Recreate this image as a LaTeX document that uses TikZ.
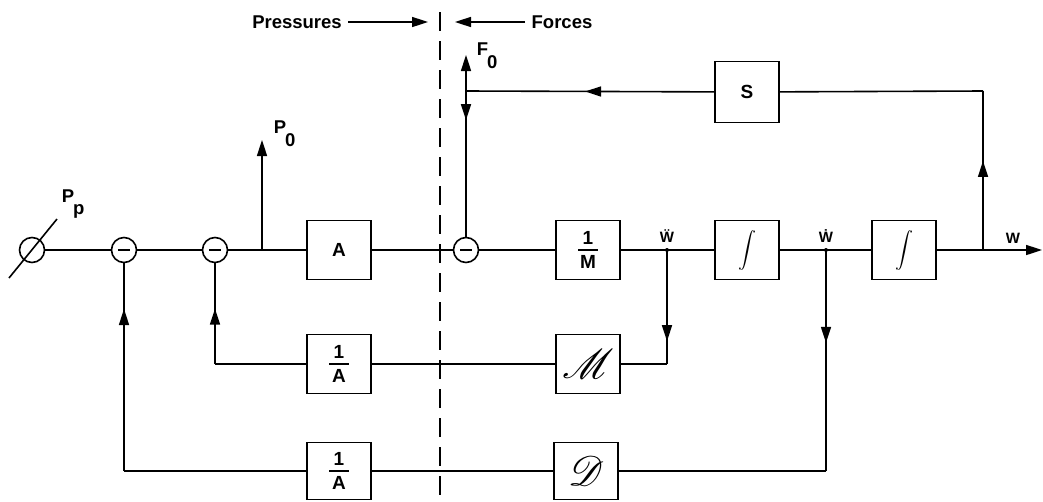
\documentclass[tikz,border=0pt]{standalone}
\usepackage{fontspec}
\setmainfont{Liberation Sans}
\usepackage{mathrsfs}
\usetikzlibrary{arrows.meta,decorations.markings}
\newcommand\myfr[2]{\shortstack{#1\\[2pt]\rule{20pt}{1.6pt}\\[2pt]#2}}
\begin{document}
\begin{tikzpicture}[x=1pt,y=-1pt,line width=1.6pt,
  blk/.style={draw,minimum width=64pt,minimum height=59pt,inner sep=0pt,font=\bfseries\fontsize{19}{19}\selectfont},
  sumc/.style={draw,circle,minimum size=25pt,inner sep=0pt,
    path picture={\draw[line width=1.6pt] ([xshift=-6pt]path picture bounding box.center) -- ([xshift=6pt]path picture bounding box.center);}},
  lbl/.style={font=\bfseries\fontsize{18.5}{18.5}\selectfont,inner sep=0pt},
  wl/.style={font=\bfseries\fontsize{15}{15}\selectfont,inner sep=0pt},
  tip/.style={-{Triangle[length=16pt,width=10pt]}},
  arrowat/.style={postaction={decorate},decoration={markings,mark=at position #1 with {\arrow{Triangle[length=16pt,width=10pt]}}}},
]
\useasboundingbox (0,0) rectangle (1043,501);

% header
\node[lbl] (pr) at (297,22) {Pressures};
\node[lbl] (fo) at (562,22) {Forces};
\coordinate (pa1) at (348,22); \coordinate (pa2) at (428,22);
\coordinate (fa1) at (525,22); \coordinate (fa2) at (455,22);
\draw[tip] (pa1) -- (pa2);
\draw[tip] (fa1) -- (fa2);
\coordinate (dt) at (440,12); \coordinate (db) at (440,501);
\draw[dash pattern=on 19pt off 10pt] (dt) -- (db);

% main row
\node[circle,draw,minimum size=25pt,inner sep=0pt] (pp) at (32,250) {};
\draw ([shift={(-23,28)}]pp.center) -- ([shift={(25,-31)}]pp.center);
\node[lbl,anchor=west] (ppl) at (61,204) {P\kern-1pt\raisebox{-12pt}{p}};
\node[sumc] (c1) at (124,250) {};
\node[sumc] (c2) at (215,250) {};
\node[blk] (A) at (339,250) {A};
\node[sumc] (c3) at (466,250) {};
\node[blk] (M1) at (588,250) {\myfr{1}{M}};
\coordinate (jw2) at (667,250);
\node[blk] (I1) at (747,250) {\scalebox{1.8}{$\displaystyle\int$}};
\coordinate (jw1) at (826,250);
\node[blk] (I2) at (904,250) {\scalebox{1.8}{$\displaystyle\int$}};
\coordinate (jw) at (983,250);
\coordinate (out) at (1042,250);
\coordinate (jp) at (262,250);
\coordinate (p0) at (262,140);

\draw (pp) -- (c1) -- (c2) -- (A) -- (c3) -- (M1) -- (I1) -- (I2);
\draw[tip] (I2) -- (out);
\draw[tip] (jp) -- (p0);
\node[lbl,anchor=west] (p0l) at (273,134) {P\kern-1pt\raisebox{-13pt}{0}};
\fill (jw2) circle (2pt);
\fill (jw1) circle (2pt);
\node[wl] (lw2) at (667,236) {\"W};
\node[wl] (lw1) at (826,236) {\.W};
\node[wl] (lw) at (1013,238) {W};

% S loop
\node[blk,minimum height=61pt] (S) at (747,92) {S};
\coordinate (sR) at (983,91);
\coordinate (sL) at (466,91);
\coordinate (f0) at (466,55);
\draw[arrowat=0.56] (jw) -- (sR);
\draw (sR) -- (S);
\draw[arrowat=0.52] (S) -- (sL);
\draw[tip] (sL) -- (f0);
\draw[arrowat=0.2] (sL) -- (c3);
\node[lbl,anchor=west] (f0l) at (476,56) {F\kern-1pt\raisebox{-13pt}{0}};

% middle row
\node[blk] (iA1) at (339,364) {\myfr{1}{A}};
\node[blk] (Ms) at (588,364) {\scalebox{2.4}{$\mathscr{M}$}};
\coordinate (m1) at (667,364);
\coordinate (m2) at (215,364);
\draw[arrowat=0.8] (jw2) -- (m1);
\draw (m1) -- (Ms) -- (iA1) -- (m2);
\draw[arrowat=0.55] (m2) -- (c2);

% bottom row
\node[blk,minimum height=57pt] (iA2) at (339,471) {\myfr{1}{A}};
\node[blk,minimum height=57pt] (Ds) at (586,471) {\scalebox{2.4}{$\mathscr{D}$}};
\coordinate (d1) at (826,471);
\coordinate (d2) at (124,471);
\draw[arrowat=0.42] (jw1) -- (d1);
\draw (d1) -- (Ds) -- (iA2) -- (d2);
\draw[arrowat=0.78] (d2) -- (c1);
\end{tikzpicture}
\end{document}
